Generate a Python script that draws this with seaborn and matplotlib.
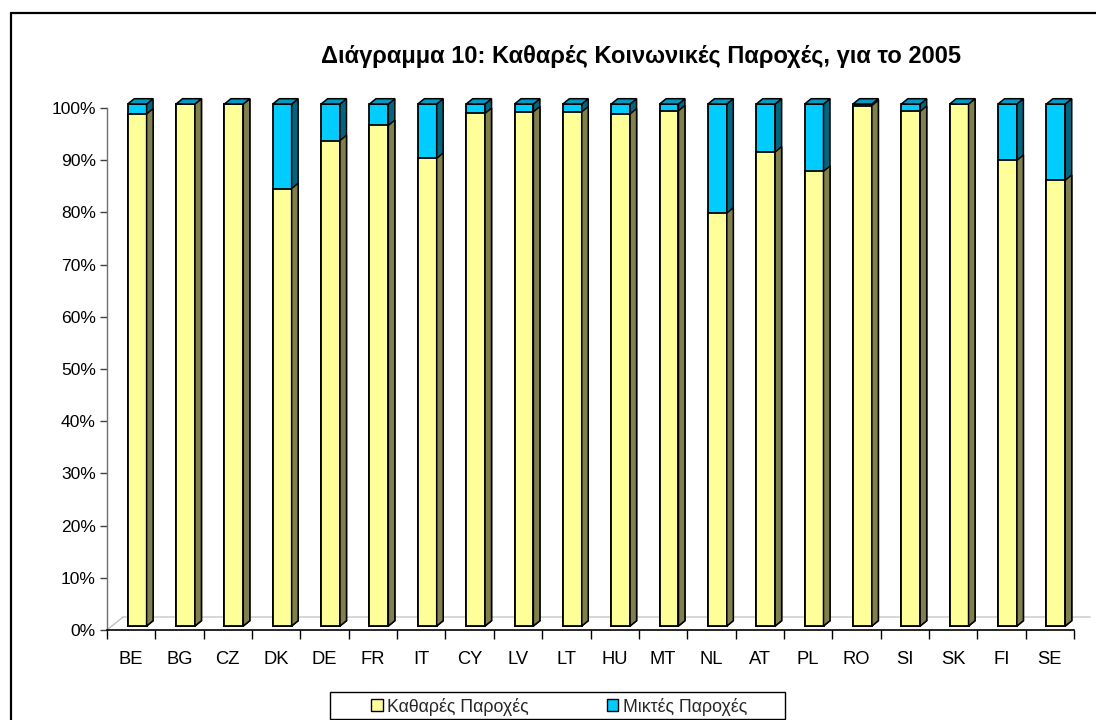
import numpy as np
import pandas as pd
import seaborn as sns
import matplotlib.pyplot as plt
from matplotlib.patches import Polygon, Patch, Rectangle
from matplotlib.transforms import ScaledTranslation
from matplotlib.lines import Line2D
from matplotlib.ticker import FuncFormatter

# ---------------- data ----------------
countries = ["BE", "BG", "CZ", "DK", "DE", "FR", "IT", "CY", "LV", "LT",
             "HU", "MT", "NL", "AT", "PL", "RO", "SI", "SK", "FI", "SE"]
clean = [98.1, 100.0, 100.0, 83.8, 93.0, 95.9, 89.6, 98.2, 98.5, 98.5,
         98.1, 98.7, 79.1, 90.8, 87.1, 99.7, 98.6, 100.0, 89.2, 85.4]
mixed = [1.9, 0.0, 0.0, 16.2, 7.0, 4.1, 10.4, 1.8, 1.5, 1.5,
         1.9, 1.3, 20.9, 9.2, 12.9, 0.3, 1.4, 0.0, 10.8, 14.6]
series_names = ["Καθαρές Παροχές", "Μικτές Παροχές"]
title = "Διάγραμμα 10: Καθαρές Κοινωνικές Παροχές, για το 2005"
yticks = [0, 10, 20, 30, 40, 50, 60, 70, 80, 90, 100]

# ---------------- style ----------------
YEL, YEL_SIDE = "#FFFF99", "#80804C"
BLU, BLU_SIDE, BLU_TOP = "#00CCFF", "#006680", "#0099C2"

sns.set_theme(style="white")
plt.rcParams['font.family'] = ['Liberation Sans', 'DejaVu Sans']

W, H = 1096, 720
fig = plt.figure(figsize=(W / 100, H / 100), dpi=100)
ax_l, ax_r, ax_t, ax_b = 107, 1074, 108, 630
ax = fig.add_axes([ax_l / W, (H - ax_b) / H, (ax_r - ax_l) / W, (ax_b - ax_t) / H])

df = pd.DataFrame({"country": countries, "clean": clean, "mixed": mixed})
df["total"] = df["clean"] + df["mixed"]

bw = 0.39
sns.barplot(data=df, x="country", y="total", color=BLU, saturation=1,
            width=bw, edgecolor="black", linewidth=1.3, ax=ax, zorder=3)
n_blue = len(ax.patches)
sns.barplot(data=df, x="country", y="clean", color=YEL, saturation=1,
            width=bw, edgecolor="black", linewidth=1.3, ax=ax, zorder=5)

ax.set_xlim(-0.5, len(countries) - 0.5)
ax.set_ylim(0, 100)

px_x = (ax_r - ax_l) / len(countries)
px_y = (ax_b - ax_t) / 100.0
# bars sit a little behind the front plane
off = ax.transData + ScaledTranslation(6 / 100, 4 / 100, fig.dpi_scale_trans)
ddx, ddy = 6.5 / px_x, 5.3 / px_y

patches = list(ax.patches)
for i, p in enumerate(patches):
    p.set_transform(off)
    p.set_clip_on(False)
    x, y, w, h = p.get_x(), p.get_y(), p.get_width(), p.get_height()
    is_blue = i < n_blue
    side_col = BLU_SIDE if is_blue else YEL_SIDE
    z = 4 if is_blue else 6
    side = Polygon([(x + w, y), (x + w + ddx, y + ddy), (x + w + ddx, y + h + ddy), (x + w, y + h)],
                   closed=True, facecolor=side_col, edgecolor="black", linewidth=1.1,
                   transform=off, clip_on=False, zorder=z)
    ax.add_patch(side)
    if is_blue:
        top = Polygon([(x, y + h), (x + ddx, y + h + ddy), (x + w + ddx, y + h + ddy), (x + w, y + h)],
                      closed=True, facecolor=BLU_TOP, edgecolor="black", linewidth=1.1,
                      transform=off, clip_on=False, zorder=7)
        ax.add_patch(top)

# floor
floor_off = ax.transData + ScaledTranslation(16 / 100, 13 / 100, fig.dpi_scale_trans)
x0, x1 = -0.5, len(countries) - 0.5
ax.plot([x0, x1], [0, 0], color="#D0D0D0", lw=1.2, transform=floor_off, clip_on=False, zorder=1)
ax.add_line(Line2D([ax_l, ax_l + 16], [H - ax_b, H - ax_b + 13], color="#C0C0C0", lw=1,
                   transform=None, zorder=1))
ax.add_line(Line2D([ax_r, ax_r + 16], [H - ax_b, H - ax_b + 13], color="black", lw=1,
                   transform=None, zorder=1))

# axes styling
for s in ["top", "right"]:
    ax.spines[s].set_visible(False)
ax.spines["left"].set_color("#707070")
ax.spines["left"].set_linewidth(1)
ax.spines["bottom"].set_color("black")
ax.spines["bottom"].set_linewidth(1.2)
ax.spines["bottom"].set_zorder(8)

ax.set_yticks(yticks)
ax.yaxis.set_major_formatter(FuncFormatter(lambda v, _: f"{v:.0f}%"))
ax.tick_params(axis="y", which="major", left=True, length=5, width=1, color="#404040",
               pad=3, labelsize=12.6, labelcolor="black")
ax.set_xticks(range(len(countries)))
ax.set_xticklabels(countries)
ax.set_xticks(np.arange(-0.5, len(countries), 1), minor=True)
ax.tick_params(axis="x", which="major", length=0, pad=15, labelsize=13.2, labelcolor="black")
ax.tick_params(axis="x", which="minor", bottom=True, length=6.5, width=1, color="black", direction="out")
ax.set_xlabel("")
ax.set_ylabel("")
ax.grid(False)

# title
fig.text(641 / W, 1 - 57 / H, title, ha="center", va="center", fontsize=17,
         fontweight="bold", color="black")

# legend
handles = [Patch(facecolor=YEL, edgecolor="black", linewidth=1),
           Patch(facecolor=BLU, edgecolor="black", linewidth=1)]
fig.legend(handles, series_names, loc="center", bbox_to_anchor=(559 / W, 1 - 706.5 / H),
           ncol=2, frameon=False, fontsize=12.8, handlelength=0.65, handleheight=0.65,
           handletextpad=0.25, columnspacing=4.4, borderpad=0.2)
fig.add_artist(Rectangle((330 / W, 1 - 719 / H), 455 / W, 27 / H, transform=fig.transFigure,
                         fill=False, edgecolor="black", linewidth=1))

# outer chart frame
fig.add_artist(Line2D([10.7 / W, 10.7 / W], [0, 1 - 13 / H], color="black", lw=1.6,
                      transform=fig.transFigure))
fig.add_artist(Line2D([10.7 / W, 1], [1 - 13 / H, 1 - 13 / H], color="black", lw=1.6,
                      transform=fig.transFigure))

fig.savefig("out.png", dpi=100)
